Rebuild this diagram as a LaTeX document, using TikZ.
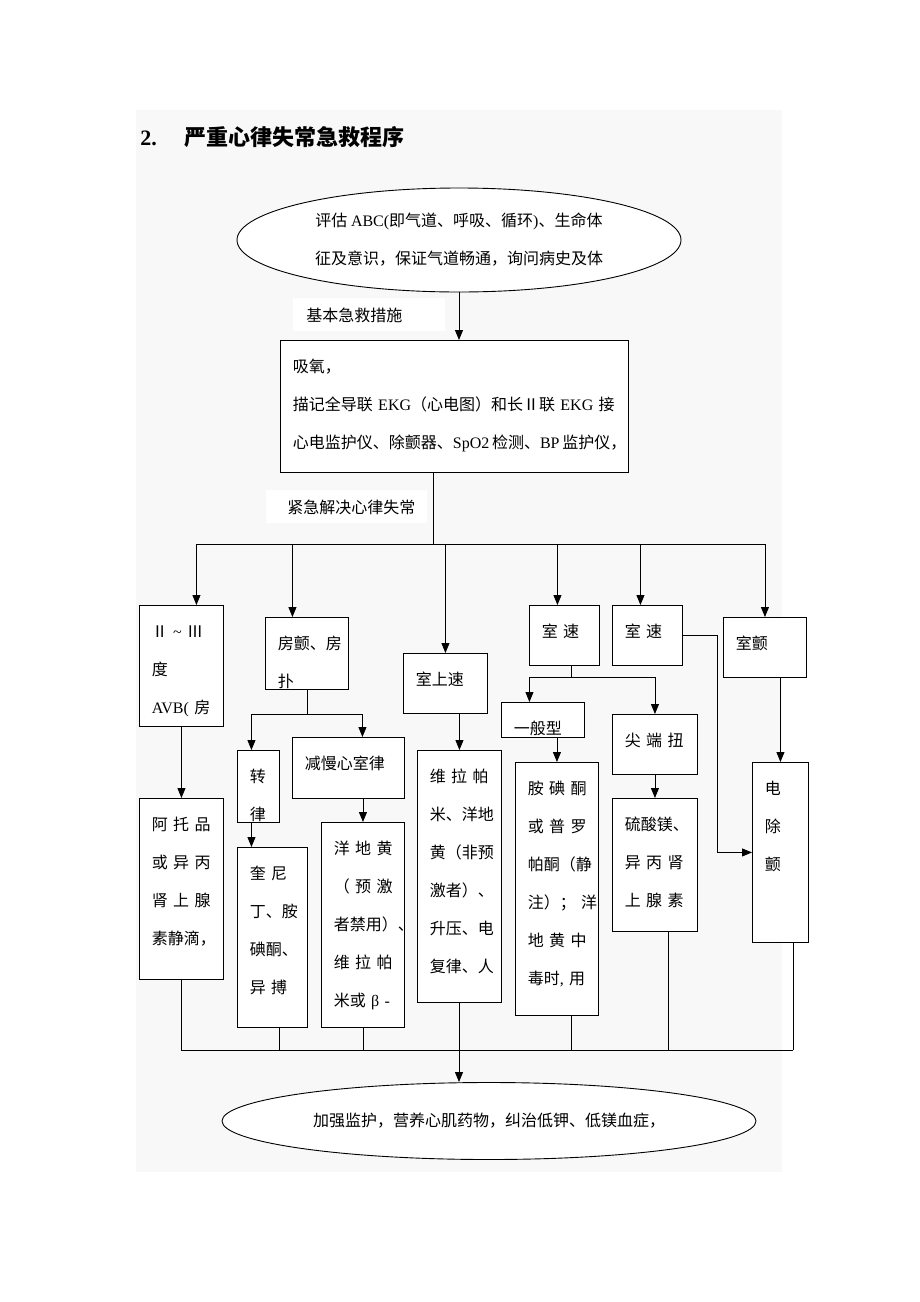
\documentclass[tikz,border=0pt]{standalone}
\usepackage{fontspec}
\setmainfont{Noto Sans CJK SC}
\newfontfamily\latin{Liberation Serif}
\usetikzlibrary{arrows.meta,shapes.geometric}

\definecolor{paper}{HTML}{F8F8F8}
\newcommand{\lat}[1]{{\latin #1}}
\newcommand{\jt}[1]{\makebox[\linewidth][s]{#1}}

\tikzset{
  cell/.style n args={3}{draw, fill=white, anchor=north west, inner sep=0pt,
    minimum width=#1pt, minimum height=#2pt,
    path picture={\pgfmathsetmacro\tw{#1-24}
      \node[celltext, text width=\tw pt] at ([xshift=12pt,yshift=-32pt]path picture bounding box.north west) {#3};}},
  celltext/.style={anchor=base west, inner sep=0pt, align=left, draw=none, fill=none,
    minimum width=0pt, minimum height=0pt},
  tag/.style 2 args={fill=white, anchor=north west, minimum height=33pt, inner ysep=0pt,
    align=left, text width=#1pt, inner xsep=#2pt},
  oval/.style={draw, ellipse, fill=white, inner sep=0pt, align=center}
}

\begin{document}
\begin{tikzpicture}[x=1pt, y=-1pt, line width=0.9pt, >={Triangle[length=10pt,width=8pt]},
    font=\fontsize{16}{38}\selectfont]
  \useasboundingbox (0,0) rectangle (920,1302);
  \fill[paper] (136,110) rectangle (782,1172);

  \node[anchor=west, inner sep=0pt, font=\bfseries\fontsize{22}{26}\selectfont] (title) at (140,137)
    {\lat{2.}\hspace{28pt}严重心律失常急救程序};

  \node[oval, minimum width=444pt, minimum height=104pt] (assess) at (459,240)
    {评估 \lat{ABC(}即气道、呼吸、循环\lat{)}、生命体\\征及意识，保证气道畅通，询问病史及体};

  \node[cell={348}{132}{吸氧，\\描记全导联 \lat{EKG}（心电图）和长Ⅱ联 \lat{EKG} 接\\
    心电监护仪、除颤器、\lat{SpO2}\,检测、\lat{BP}\,监护仪，}] (basic) at (280,340) {};
  \node[tag={126}{13}] (basiclbl) at (293,298) {基本急救措施};
  \node[tag={119}{21}] (urgentlbl) at (266,490) {紧急解决心律失常};

  % first row
  \node[cell={84}{121}{\jt{Ⅱ \lat{\textasciitilde} Ⅲ}\\度\\\jt{\lat{AVB(} 房}}] (avb) at (139,605) {};
  \node[cell={83}{72}{房颤、房\\扑}] (flutter) at (265,617) {};
  \node[cell={84}{60}{室上速}] (svt) at (403,653) {};
  \node[cell={70}{60}{\jt{室 速}}] (vt1) at (529,605) {};
  \node[cell={70}{60}{\jt{室 速}}] (vt2) at (612,605) {};
  \node[cell={83}{60}{室颤}] (vf) at (723,617) {};

  % second row
  \node[cell={84}{181}{\jt{阿 托 品}\\\jt{或 异 丙}\\\jt{肾 上 腺}\\素静滴，}] (atropine) at (139,798) {};
  \node[cell={42}{72}{转\\律}] (convert) at (237,750) {};
  \node[cell={112}{61}{减慢心室律}] (slow) at (292,737) {};
  \node[cell={84}{252}{\jt{维 拉 帕}\\米、洋地\\黄（非预\\激者）、\\升压、电\\复律、人}] (verap) at (417,750) {};
  \node[cell={83}{35}{一般型}] (general) at (501,702) {};
  \node[cell={85}{60}{\jt{尖 端 扭}}] (torsade) at (612,714) {};
  \node[cell={83}{253}{\jt{胺 碘 酮}\\\jt{或 普 罗}\\帕酮（静\\\jt{注）； 洋}\\\jt{地 黄 中}\\\jt{毒时\lat{,} 用}}] (amio) at (515,762) {};
  \node[cell={85}{133}{硫酸镁、\\\jt{异 丙 肾}\\\jt{上 腺 素}}] (mgso) at (612,798) {};
  \node[cell={56}{180}{电\\除\\颤}] (shock) at (752,762) {};

  % third row
  \node[cell={70}{180}{\jt{奎 尼}\\丁、胺\\碘酮、\\\jt{异 搏}}] (quinidine) at (237,847) {};
  \node[cell={83}{205}{\jt{洋 地 黄}\\\jt{（ 预 激}\\者禁用）、\\\jt{维 拉 帕}\\\jt{米或 \lat{β} \lat{-}}}] (digoxin) at (321,822) {};

  \node[oval, minimum width=534pt, minimum height=77pt] (outcome) at (489,1121)
    {加强监护，营养心肌药物，纠治低钾、低镁血症，};

  % connectors
  \draw[->] (assess.south) -- (assess.south |- basic.north);
  \coordinate (fork) at (433,544);
  \draw (basic.south -| fork) -- (fork);
  \draw ([xshift=15pt]avb.north |- fork) -- (vf.north |- fork);
  \foreach \n/\dx in {avb/15, flutter/-14.5, svt/0, vt1/-7, vt2/-7, vf/0}
    \draw[->] ([xshift=\dx pt]\n.north |- fork) -- ([xshift=\dx pt]\n.north);

  \draw[->] (avb.south) -- (atropine.north);
  \coordinate (ffork) at ([yshift=-25pt]flutter.south);
  \draw[->] (flutter.south) -- (ffork) -| ([xshift=-7pt]convert.north);
  \draw[->] (ffork) -| ([xshift=14pt]slow.north);
  \draw[->] ([xshift=-7pt]convert.south) -- ([xshift=-7pt]convert.south |- quinidine.north);
  \draw[->] (slow.south -| digoxin.north) -- (digoxin.north);
  \draw[->] (svt.south -| verap.north) -- (verap.north);
  \coordinate (vfork) at ([xshift=7pt,yshift=-12pt]vt1.south);
  \draw (vt1.south -| vfork) -- (vfork);
  \draw[->] (vfork) -| ([xshift=-13.5pt]general.north);
  \draw[->] (vfork) -| (torsade.north);
  \draw[->] (general.south -| amio.north) -- (amio.north);
  \draw[->] (torsade.south) -- (mgso.north);
  \draw[->] (vt2.east) -- ++(35,0) |- (shock.west);
  \draw[->] (vf.south -| shock.north) -- (shock.north);

  \coordinate (merge) at (459,1050);
  \foreach \n/\dx in {atropine/0, quinidine/7, digoxin/0, verap/0, amio/14.5, mgso/13.5, shock/13}
    \draw ([xshift=\dx pt]\n.south) -- ([xshift=\dx pt]\n.south |- merge);
  \draw (atropine.south |- merge) -- ([xshift=13pt]shock.south |- merge);
  \draw[->] (merge) -- (merge |- outcome.north);
\end{tikzpicture}
\end{document}
